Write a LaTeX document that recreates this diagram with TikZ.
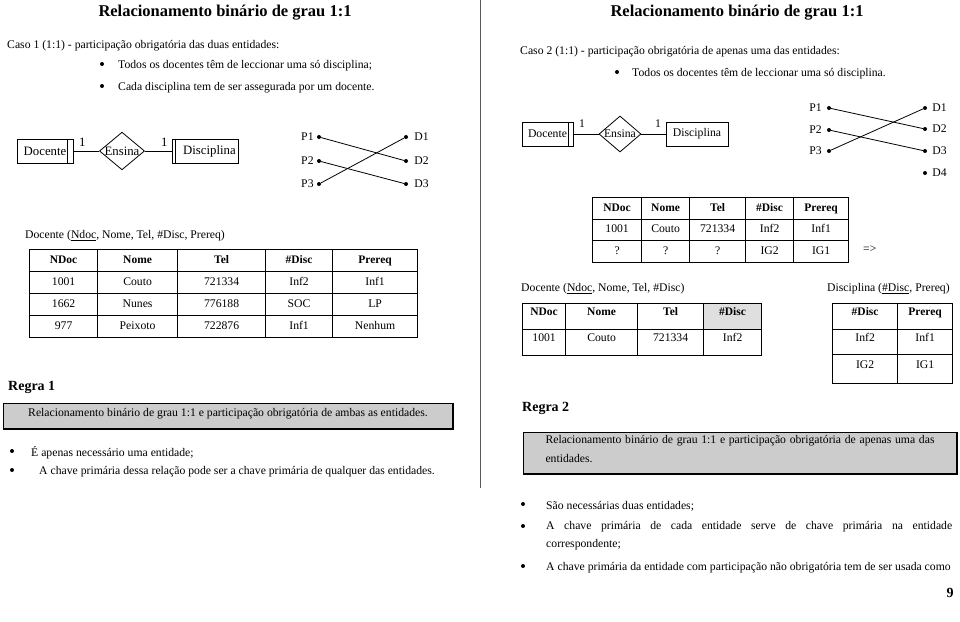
\documentclass[tikz,border=0pt]{standalone}
\usepackage{fontspec}
\setmainfont{Liberation Serif}
\usetikzlibrary{shapes.geometric,positioning,matrix}

\newcommand\bodyfont{\fontsize{11.7}{14}\selectfont}
\newcommand\headfont{\fontsize{11.5}{14}\selectfont\bfseries}

\begin{document}
\begin{tikzpicture}[x=1pt, y=-1pt, font=\bodyfont,
	txt/.style={inner sep=0pt, anchor=west},
	bul/.style={circle, fill, inner sep=0pt, minimum size=4pt},
	entity/.style={draw, thick, minimum height=24pt, inner sep=0pt},
	rel/.style={draw, thick, diamond, aspect=1.2, minimum width=44pt, minimum height=36pt, inner sep=0pt},
	vdot/.style={circle, fill, inner sep=0pt, minimum size=4pt},
	tbl/.style={matrix of nodes, inner sep=0pt, column sep=-0.8pt, row sep=-0.8pt,
		nodes={draw, line width=0.8pt, inner sep=0pt, text height=8pt, text depth=2.5pt, anchor=center}},
	rulebox/.style={draw, fill=gray!40, inner sep=0pt}]
	\useasboundingbox (0,0) rectangle (960,621);

	% Divisor
	\draw [gray!70!black, line width=1pt] (480,0) -- (480,488);

	% Caso 1
	\node [font=\fontsize{16.5}{18}\selectfont\bfseries] (tit1) at (225,13) {Relacionamento binário de grau 1:1};
	\node [txt] (caso1) at (7,46) {Caso 1 (1:1) - participação obrigatória das duas entidades:};
	\node [bul] (c1b1) at (102,64) {};
	\node [txt] (c1t1) at (118,66) {Todos os docentes têm de leccionar uma só disciplina;};
	\node [bul] (c1b2) at (102,86) {};
	\node [txt] (c1t2) at (118,88) {Cada disciplina tem de ser assegurada por um docente.};

	% Nodes {Docente, Ensina, Disciplina}
	\begin{scope}[font=\fontsize{12.8}{14}\selectfont]
	\node [entity, minimum width=56pt] (doc1) at (45,151) {Docente};
	\node [rel] (ens1) at (122,151) {Ensina};
	\node [entity, minimum width=66pt] (dis1) at (205,151) {\hspace*{9pt}Disciplina};
	\node [txt] (one1a) at (79,142) {1};
	\node [txt] (one1b) at (161,142) {1};
	\end{scope}
	\draw [thick] ([xshift=-6pt]doc1.north east) -- ([xshift=-6pt]doc1.south east);
	\draw [thick] ([xshift=4pt]dis1.north west) -- ([xshift=4pt]dis1.south west);
	\path [draw, thick] (doc1) -- (ens1) -- (dis1);

	% Paths {P1-D2, P2-D3, P3-D1}
	\node [vdot] (pa1) at (319,137) {};
	\node [vdot] (pa2) at (319,161) {};
	\node [vdot] (pa3) at (319,184) {};
	\node [vdot] (da1) at (406,137) {};
	\node [vdot] (da2) at (406,161) {};
	\node [vdot] (da3) at (406,184) {};
	\node [left=3pt of pa1, inner sep=0pt] (pa1t) {P1};
	\node [left=3pt of pa2, inner sep=0pt] (pa2t) {P2};
	\node [left=3pt of pa3, inner sep=0pt] (pa3t) {P3};
	\node [right=6pt of da1, inner sep=0pt] (da1t) {D1};
	\node [right=6pt of da2, inner sep=0pt] (da2t) {D2};
	\node [right=6pt of da3, inner sep=0pt] (da3t) {D3};
	\path [thick] (pa1) edge (da2)
	              (pa2) edge (da3)
	              (pa3) edge (da1);

	% Tabela Docente
	\node [txt] (capA) at (25,236) {Docente (\underline{Ndoc}, Nome, Tel, \#Disc, Prereq)};
	\matrix (tabA) [tbl, anchor=north west, nodes={minimum height=22pt},
		column 1/.style={nodes={minimum width=68pt}},
		column 2/.style={nodes={minimum width=80pt}},
		column 3/.style={nodes={minimum width=88pt}},
		column 4/.style={nodes={minimum width=67pt}},
		column 5/.style={nodes={minimum width=85pt}},
		row 1/.style={nodes={font=\headfont}}] at (29,249) {
		NDoc & Nome & Tel & \#Disc & Prereq \\
		1001 & Couto & 721334 & Inf2 & Inf1 \\
		1662 & Nunes & 776188 & SOC & LP \\
		977 & Peixoto & 722876 & Inf1 & Nenhum \\
	};

	% Regra 1
	\node [txt, font=\fontsize{14}{16}\selectfont\bfseries] (reg1) at (8,387) {Regra 1};
	\node [rulebox, minimum width=450pt, minimum height=26pt, text depth=8pt] (rule1) at (228,416)
		{Relacionamento binário de grau 1:1 e participação obrigatória de ambas as entidades.};
	\draw [line width=1.6pt] (rule1.north east) -- (rule1.south east) -- (rule1.south west);
	\node [bul] (r1b1) at (12,451) {};
	\node [txt] (r1t1) at (31,453) {É apenas necessário uma entidade;};
	\node [bul] (r1b2) at (12,470) {};
	\node [txt] (r1t2) at (39,472) {A chave primária dessa relação pode ser a chave primária de qualquer das entidades.};

	% Caso 2
	\node [font=\fontsize{16.5}{18}\selectfont\bfseries] (tit2) at (737,13) {Relacionamento binário de grau 1:1};
	\node [txt] (caso2) at (520,52) {Caso 2 (1:1) - participação obrigatória de apenas uma das entidades:};
	\node [bul] (c2b1) at (617,72) {};
	\node [txt] (c2t1) at (632,74) {Todos os docentes têm de leccionar uma só disciplina.};

	% Nodes {Docente, Ensina, Disciplina}
	\node [entity, minimum width=51pt] (doc2) at (547.5,134) {Docente};
	\node [rel, minimum width=42pt] (ens2) at (620,134) {Ensina};
	\node [entity, minimum width=62pt] (dis2) at (697,134) {Disciplina};
	\node [txt] (one2a) at (579,124) {1};
	\node [txt] (one2b) at (655,124) {1};
	\draw [thick] ([xshift=-5pt]doc2.north east) -- ([xshift=-5pt]doc2.south east);
	\path [draw, thick] (doc2) -- (ens2) -- (dis2);

	% Paths {P1-D2, P2-D3, P3-D1}, D4 livre
	\node [vdot] (pb1) at (829,108) {};
	\node [vdot] (pb2) at (829,130) {};
	\node [vdot] (pb3) at (829,151) {};
	\node [vdot] (db1) at (925,108) {};
	\node [vdot] (db2) at (925,129) {};
	\node [vdot] (db3) at (925,151) {};
	\node [vdot] (db4) at (925,173) {};
	\node [left=5pt of pb1, inner sep=0pt] (pb1t) {P1};
	\node [left=5pt of pb2, inner sep=0pt] (pb2t) {P2};
	\node [left=5pt of pb3, inner sep=0pt] (pb3t) {P3};
	\node [right=5pt of db1, inner sep=0pt] (db1t) {D1};
	\node [right=5pt of db2, inner sep=0pt] (db2t) {D2};
	\node [right=5pt of db3, inner sep=0pt] (db3t) {D3};
	\node [right=5pt of db4, inner sep=0pt] (db4t) {D4};
	\path [thick] (pb1) edge (db2)
	              (pb2) edge (db3)
	              (pb3) edge (db1);

	% Tabela com nulos
	\matrix (tabB) [tbl, anchor=north west, nodes={minimum height=21.5pt},
		column 1/.style={nodes={minimum width=49pt}},
		column 2/.style={nodes={minimum width=48pt}},
		column 3/.style={nodes={minimum width=56pt}},
		column 4/.style={nodes={minimum width=48pt}},
		column 5/.style={nodes={minimum width=55pt}},
		row 1/.style={nodes={font=\headfont}}] at (592,197) {
		NDoc & Nome & Tel & \#Disc & Prereq \\
		1001 & Couto & 721334 & Inf2 & Inf1 \\
		? & ? & ? & IG2 & IG1 \\
	};
	\node [txt] (impl) at (863,249) {=>};

	% Tabelas Docente e Disciplina
	\node [txt] (capC) at (521,289) {Docente (\underline{Ndoc}, Nome, Tel, \#Disc)};
	\matrix (tabC) [tbl, anchor=north west, nodes={minimum height=26pt, text depth=10pt},
		column 1/.style={nodes={minimum width=43pt}},
		column 2/.style={nodes={minimum width=72pt}},
		column 3/.style={nodes={minimum width=66pt}},
		column 4/.style={nodes={minimum width=58pt}},
		row 1/.style={nodes={font=\headfont}}] at (522,303) {
		NDoc & Nome & Tel & |[fill=gray!25]| \#Disc \\
		1001 & Couto & 721334 & Inf2 \\
	};
	\node [txt] (capD) at (827,289) {Disciplina (\underline{\#Disc}, Prereq)};
	\matrix (tabD) [tbl, anchor=north west, nodes={minimum height=25pt, text depth=10pt},
		column 1/.style={nodes={minimum width=65pt}},
		column 2/.style={nodes={minimum width=55pt}},
		row 1/.style={nodes={font=\headfont, minimum height=26pt}},
		row 3/.style={nodes={minimum height=29pt}}] at (832,303) {
		\#Disc & Prereq \\
		Inf2 & Inf1 \\
		IG2 & IG1 \\
	};

	% Regra 2
	\node [txt, font=\fontsize{14}{16}\selectfont\bfseries] (reg2) at (522,408) {Regra 2};
	\node [rulebox, minimum width=434pt, minimum height=42pt] (rule2) at (740,453) {};
	\draw [line width=1.6pt] (rule2.north east) -- (rule2.south east) -- (rule2.south west);
	\node [inner sep=0pt, text width=389pt, align=justify, font=\fontsize{11.7}{19}\selectfont] (rule2t) at ([yshift=3.5pt]rule2.center)
		{Relacionamento binário de grau 1:1 e participação obrigatória de apenas uma das\linebreak entidades.};
	\node [bul] (r2b1) at (523,504) {};
	\node [txt] (r2t1) at (546,506) {São necessárias duas entidades;};
	\node [bul] (r2b2) at (523,526) {};
	\node [inner sep=0pt, anchor=north west, text width=406pt, align=justify, font=\fontsize{11.7}{18}\selectfont] (r2t2) at (546,521)
		{A chave primária de cada entidade serve de chave primária na entidade\linebreak correspondente;};
	\node [bul] (r2b3) at (523,566) {};
	\node [txt] (r2t3) at (546,568) {A chave primária da entidade com participação não obrigatória tem de ser usada como};

	% Pagina
	\node [font=\fontsize{14}{16}\selectfont\bfseries] (pag) at (950,593) {9};
\end{tikzpicture}
\end{document}
